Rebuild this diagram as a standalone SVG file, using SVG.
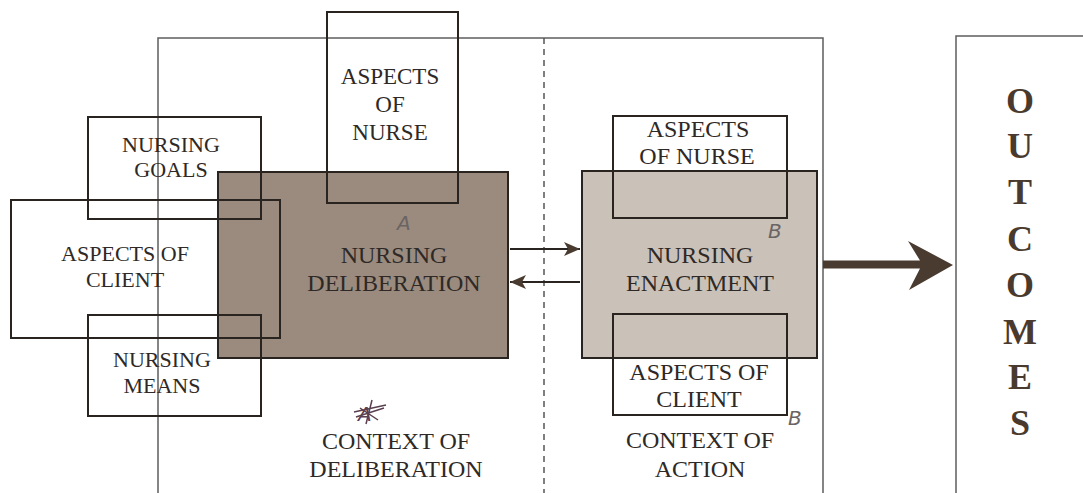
<svg xmlns="http://www.w3.org/2000/svg" width="1083" height="493" viewBox="0 0 1083 493">
  <defs>
    <marker id="ah" viewBox="0 0 16 14" refX="16" refY="7" markerWidth="16" markerHeight="14" markerUnits="userSpaceOnUse" orient="auto">
      <path d="M0,0 L16,7 L0,14 L4,7 z" fill="#4a3b30"/>
    </marker>
  </defs>
  <style>
    .frame { fill: none; stroke: #5e5e5e; stroke-width: 1.5; }
    .box { fill: none; stroke: #2a2420; stroke-width: 2; }
    .delib { fill: #9a8b7e; stroke: #2a2420; stroke-width: 2; }
    .enact { fill: #cac1b8; stroke: #2a2420; stroke-width: 2; }
    .lbl { font-family: "Liberation Serif", "Times New Roman", serif; fill: #2e2926; text-anchor: middle; }
    .s22 { font-size: 22px; }
    .s23 { font-size: 23px; }
    .s24 { font-size: 24px; }
    .out { font-family: "Liberation Serif", "Times New Roman", serif; font-size: 36px; font-weight: bold; fill: #4a3a2e; text-anchor: middle; }
    .hand { font-family: "DejaVu Sans", sans-serif; font-size: 20px; fill: #6a6464; font-style: italic; }
    .conn { stroke: #2a2420; stroke-width: 2; fill: none; }
  </style>
  <rect x="0" y="0" width="1083" height="493" fill="#ffffff"/>

  <g id="context-frame">
    <path class="frame" d="M158,493 V38 H823 V493"/>
    <line x1="544" y1="38" x2="544" y2="493" stroke="#555" stroke-width="1.5" stroke-dasharray="6,5"/>
  </g>

  <g id="nursing-deliberation">
    <rect class="delib" x="218" y="172" width="290" height="186"/>
    <text class="lbl s24" x="394" y="263">NURSING</text>
    <text class="lbl s24" x="394" y="291">DELIBERATION</text>
  </g>
  <g id="nursing-enactment">
    <rect class="enact" x="582" y="171" width="235" height="187"/>
    <text class="lbl s24" x="700" y="263">NURSING</text>
    <text class="lbl s24" x="700" y="291">ENACTMENT</text>
  </g>

  <g id="aspects-of-nurse-a">
    <rect class="box" x="327" y="12" width="131" height="191"/>
    <text class="lbl s23" x="390" y="84">ASPECTS</text>
    <text class="lbl s23" x="390" y="112">OF</text>
    <text class="lbl s23" x="390" y="140">NURSE</text>
  </g>
  <g id="nursing-goals">
    <rect class="box" x="88" y="117" width="173" height="102"/>
    <text class="lbl s22" x="171" y="152">NURSING</text>
    <text class="lbl s22" x="171" y="177">GOALS</text>
  </g>
  <g id="aspects-of-client-a">
    <rect class="box" x="11" y="200" width="269" height="138"/>
    <text class="lbl s22" x="125" y="261">ASPECTS OF</text>
    <text class="lbl s22" x="125" y="287">CLIENT</text>
  </g>
  <g id="nursing-means">
    <rect class="box" x="88" y="315" width="173" height="101"/>
    <text class="lbl s22" x="162" y="367">NURSING</text>
    <text class="lbl s22" x="162" y="393">MEANS</text>
  </g>
  <g id="context-of-deliberation">
    <text class="lbl s24" x="396" y="449">CONTEXT OF</text>
    <text class="lbl s24" x="396" y="477">DELIBERATION</text>
  </g>

  <g id="aspects-of-nurse-b">
    <rect class="box" x="613" y="116" width="174" height="102"/>
    <text class="lbl s24" x="698" y="137">ASPECTS</text>
    <text class="lbl s24" x="697" y="164">OF NURSE</text>
  </g>
  <g id="aspects-of-client-b">
    <rect class="box" x="613" y="314" width="174" height="101"/>
    <text class="lbl s24" x="699" y="380">ASPECTS OF</text>
    <text class="lbl s24" x="699" y="407">CLIENT</text>
  </g>
  <g id="context-of-action">
    <text class="lbl s24" x="700" y="448">CONTEXT OF</text>
    <text class="lbl s24" x="700" y="477">ACTION</text>
  </g>

  <g id="outcomes">
    <path class="frame" d="M956,493 V36 H1083"/>
    <text class="out" x="1020" y="113">O</text>
    <text class="out" x="1020" y="158">U</text>
    <text class="out" x="1020" y="204">T</text>
    <text class="out" x="1020" y="251">C</text>
    <text class="out" x="1020" y="297">O</text>
    <text class="out" x="1020" y="344">M</text>
    <text class="out" x="1020" y="389">E</text>
    <text class="out" x="1020" y="435">S</text>
  </g>

  <g id="annotations">
    <text class="hand" x="397" y="230">A</text>
    <text class="hand" x="768" y="238">B</text>
    <text class="hand" x="788" y="425">B</text>
    <text class="hand" x="358" y="421" style="fill:#5a4050">A</text>
    <path d="M354,412 L386,405 M356,417 L384,408 M360,408 L378,420 M372,400 L366,424" stroke="#5a4050" stroke-width="1.5" fill="none"/>
  </g>

  <g id="connectors">
    <line class="conn" x1="510" y1="249" x2="580" y2="249" marker-end="url(#ah)"/>
    <line class="conn" x1="580" y1="282" x2="510" y2="282" marker-end="url(#ah)"/>
    <path d="M823,260.5 H920 L908,241 L953,265 L909,290 L920,268.5 H823 z" fill="#4a3b30"/>
  </g>
</svg>
